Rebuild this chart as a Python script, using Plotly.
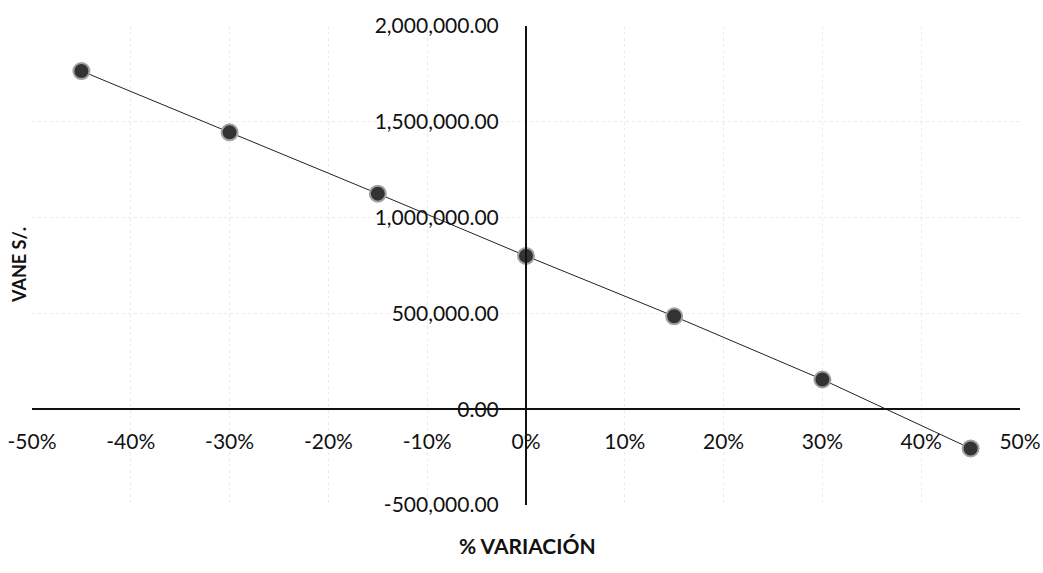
import plotly.graph_objects as go

variacion = [-0.45, -0.30, -0.15, 0.0, 0.15, 0.30, 0.45]
vane = [1765000, 1445000, 1125000, 800000, 485000, 155000, -205000]

x_ticks = [-0.5, -0.4, -0.3, -0.2, -0.1, 0.0, 0.1, 0.2, 0.3, 0.4, 0.5]
x_labels = ["-50%", "-40%", "-30%", "-20%", "-10%", "0%", "10%", "20%", "30%", "40%", "50%"]
y_ticks = [-500000, 0, 500000, 1000000, 1500000, 2000000]
y_labels = ["-500,000.00", "0.00", "500,000.00", "1,000,000.00", "1,500,000.00", "2,000,000.00"]

font_family = "Lato, 'Open Sans', sans-serif"

L, R, T, B = 32, 23, 26, 68
W, H = 1043, 573
pw = W - L - R
ph = H - T - B

fig = go.Figure()
fig.add_trace(go.Scatter(
    x=variacion, y=vane, mode="lines+markers",
    line=dict(color="#222222", width=1),
    marker=dict(size=16, color="#333333", line=dict(color="#a0a0a0", width=2)),
    showlegend=False,
))

fig.update_layout(
    width=W, height=H,
    paper_bgcolor="white", plot_bgcolor="white",
    margin=dict(l=L, r=R, t=T, b=B, autoexpand=False),
    font=dict(family=font_family, size=21, color="#111111"),
    xaxis=dict(
        range=[-0.5, 0.5], tickvals=x_ticks, ticktext=x_labels,
        showline=True, linecolor="#111111", linewidth=2,
        anchor="free", position=0.2, automargin=False,
        showgrid=True, gridcolor="#ebebeb", griddash="dot", gridwidth=1,
        zeroline=False, ticks="", ticklabelstandoff=14,
    ),
    yaxis=dict(
        range=[-500000, 2000000], tickvals=y_ticks, ticktext=y_labels,
        showline=True, linecolor="#111111", linewidth=2,
        anchor="free", position=0.5, automargin=False,
        showgrid=True, gridcolor="#ebebeb", griddash="dot", gridwidth=1,
        zeroline=False, ticks="", ticklabelstandoff=22,
    ),
    annotations=[
        dict(text="<b>% VARIACIÓN</b>", x=(527 - L) / pw, y=(H - B - 545) / ph,
             xref="paper", yref="paper", xanchor="center", yanchor="middle",
             showarrow=False, font=dict(size=21)),
        dict(text="<b>VANE S/.</b>", x=(19 - L) / pw, y=(H - B - 265) / ph,
             xref="paper", yref="paper", xanchor="center", yanchor="middle",
             showarrow=False, textangle=-90, font=dict(size=18)),
    ],
)

fig.write_html(
    "out.html",
    config={"displayModeBar": False},
    post_script="document.body.style.margin='0';document.body.style.overflow='hidden';",
)
